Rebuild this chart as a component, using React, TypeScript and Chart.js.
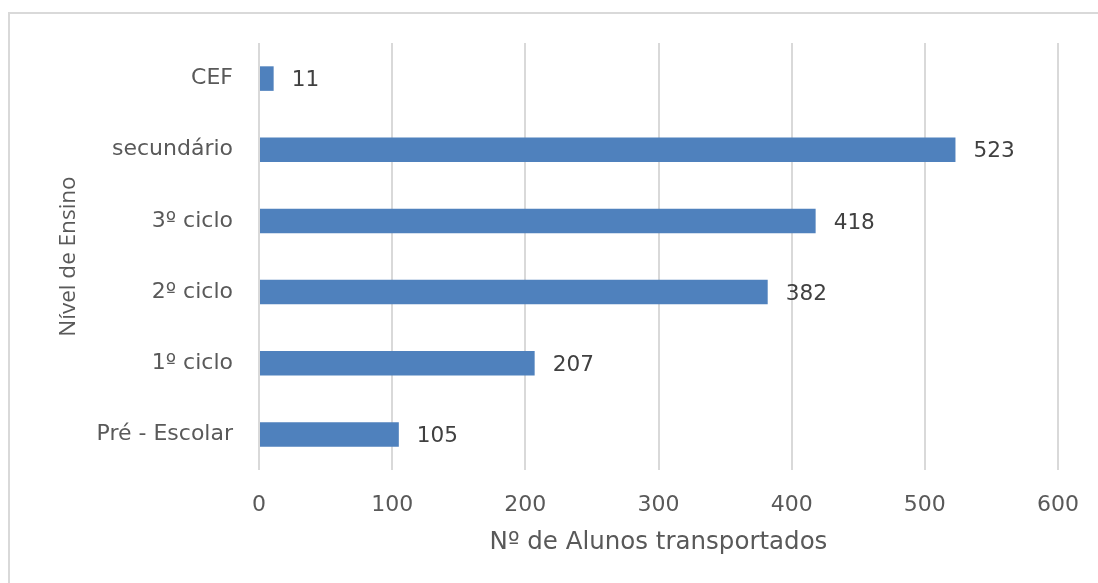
import React, { useEffect, useRef } from "react";
import { Chart, registerables } from "chart.js";

Chart.register(...registerables);

const categories = ["CEF", "secundário", "3º ciclo", "2º ciclo", "1º ciclo", "Pré - Escolar"];
const values = [11, 523, 418, 382, 207, 105];
const xTicks = [0, 100, 200, 300, 400, 500, 600];
const xTitle = "Nº de Alunos transportados";
const yTitle = "Nível de Ensino";

const FONT = "'DejaVu Sans', sans-serif";
const VFONT = "'Open Sans', 'DejaVu Sans', sans-serif";

const framePlugin = {
  id: "frame",
  beforeDraw(chart: any) {
    const ctx = chart.ctx;
    ctx.save();
    ctx.fillStyle = "#ffffff";
    ctx.fillRect(0, 0, chart.width, chart.height);
    ctx.strokeStyle = "#d9d9d9";
    ctx.lineWidth = 2;
    ctx.beginPath();
    ctx.moveTo(9, chart.height);
    ctx.lineTo(9, 13);
    ctx.lineTo(chart.width, 13);
    ctx.stroke();
    ctx.restore();
  },
};

const labelPlugin = {
  id: "valueLabels",
  afterDatasetsDraw(chart: any) {
    const ctx = chart.ctx;
    const meta = chart.getDatasetMeta(0);
    ctx.save();
    ctx.font = `21.6px ${FONT}`;
    ctx.fillStyle = "#404040";
    ctx.textAlign = "left";
    ctx.textBaseline = "middle";
    meta.data.forEach((bar: any, i: number) => {
      ctx.fillText(String(values[i]), bar.x + 18, bar.y + 2);
    });
    ctx.restore();
  },
};

export default function App() {
  const ref = useRef<HTMLCanvasElement>(null);
  useEffect(() => {
    document.body.style.margin = "0";
    const chart = new Chart(ref.current!, {
      type: "bar",
      data: {
        labels: categories,
        datasets: [
          {
            data: values,
            backgroundColor: "#4f81bd",
            borderWidth: 0,
            categoryPercentage: 1,
            barPercentage: 0.345,
          },
        ],
      },
      plugins: [framePlugin, labelPlugin],
      options: {
        indexAxis: "y",
        animation: false,
        responsive: false,
        layout: { padding: { left: 0, top: 43, right: 40, bottom: 0 } },
        plugins: { legend: { display: false }, tooltip: { enabled: false } },
        scales: {
          x: {
            min: 0,
            max: 600,
            afterBuildTicks: (scale: any) => {
              scale.ticks = xTicks.map((v) => ({ value: v }));
            },
            afterFit: (scale: any) => {
              scale.height = 113;
              scale.paddingLeft = 0;
              scale.paddingRight = 0;
            },
            grid: { color: "#d9d9d9", lineWidth: 2, drawTicks: false },
            border: { display: false },
            ticks: { color: "#595959", font: { family: FONT, size: 22 }, padding: 22 },
            title: {
              display: true,
              text: xTitle,
              color: "#595959",
              font: { family: FONT, size: 24.5 },
              padding: { top: 0, bottom: 26 },
            },
          },
          y: {
            afterFit: (scale: any) => {
              scale.width = 259;
              scale.paddingTop = 0;
              scale.paddingBottom = 0;
            },
            grid: { display: false, drawTicks: false },
            border: { display: false },
            ticks: { color: "#595959", font: { family: FONT, size: 22 }, padding: 26 },
            title: {
              display: true,
              text: yTitle,
              color: "#595959",
              font: { family: VFONT, size: 22.5 },
              padding: { top: 55, bottom: 0 },
            },
          },
        },
      },
    });
    return () => chart.destroy();
  }, []);
  return (
    <div style={{ width: 1098, height: 583 }}>
      <canvas ref={ref} width={1098} height={583} style={{ display: "block" }} />
    </div>
  );
}
